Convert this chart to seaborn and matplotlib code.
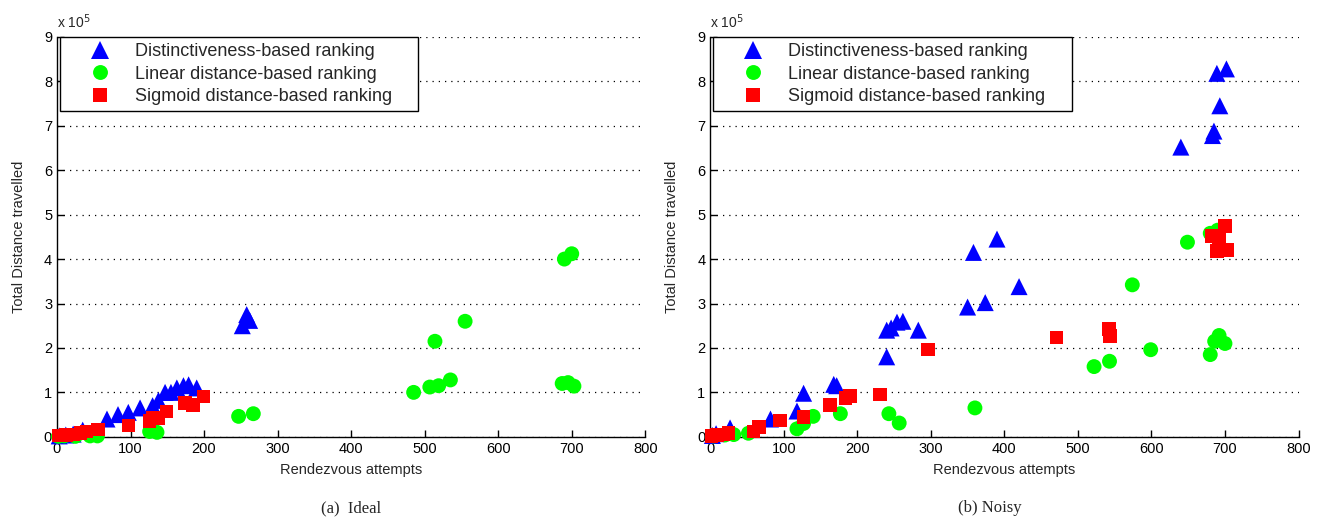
import pandas as pd
import seaborn as sns
import matplotlib.pyplot as plt

# Series names (legend text)
series_names = ['Distinctiveness-based ranking',
                'Linear distance-based ranking',
                'Sigmoid distance-based ranking']

# (a) Ideal -- values in units of 1e5
ideal_dist_x = [3, 12, 22, 35, 68, 83, 97, 113, 130, 138, 147, 155, 163, 172, 179, 190, 252, 258, 262]
ideal_dist_y = [0.02, 0.04, 0.06, 0.15, 0.4, 0.5, 0.55, 0.65, 0.7, 0.82, 1.0, 1.0, 1.1, 1.15, 1.17, 1.1, 2.5, 2.75, 2.62]
ideal_lin_x = [2, 10, 25, 45, 55, 126, 136, 247, 267, 485, 507, 519, 535, 514, 555, 687, 695, 703, 690, 700]
ideal_lin_y = [0.01, 0.02, 0.01, 0.02, 0.02, 0.12, 0.1, 0.46, 0.52, 1.0, 1.12, 1.15, 1.28, 2.15, 2.6, 1.2, 1.22, 1.14, 4.0, 4.12]
ideal_sig_x = [3, 12, 22, 32, 40, 56, 97, 126, 130, 138, 149, 174, 185, 199]
ideal_sig_y = [0.03, 0.04, 0.05, 0.08, 0.12, 0.16, 0.25, 0.35, 0.42, 0.42, 0.57, 0.76, 0.72, 0.91]

# (b) Noisy
noisy_dist_x = [3, 8, 27, 82, 118, 127, 168, 172, 240, 240, 246, 254, 262, 283, 350, 358, 374, 390, 420, 640, 683, 685, 689, 693, 702]
noisy_dist_y = [0.03, 0.07, 0.2, 0.4, 0.58, 0.98, 1.18, 1.15, 1.8, 2.4, 2.45, 2.58, 2.6, 2.4, 2.92, 4.15, 3.02, 4.45, 3.38, 6.52, 6.78, 6.88, 8.18, 7.45, 8.28]
noisy_lin_x = [5, 20, 32, 52, 118, 127, 140, 177, 243, 257, 360, 522, 543, 574, 599, 649, 680, 690, 680, 686, 692, 700]
noisy_lin_y = [0.02, 0.04, 0.05, 0.08, 0.18, 0.3, 0.46, 0.52, 0.52, 0.31, 0.65, 1.58, 1.7, 3.42, 1.96, 4.38, 4.58, 4.65, 1.85, 2.15, 2.28, 2.1]
noisy_sig_x = [2, 9, 18, 25, 59, 66, 95, 127, 163, 184, 190, 231, 296, 471, 542, 544, 682, 692, 700, 689, 703]
noisy_sig_y = [0.02, 0.04, 0.05, 0.08, 0.12, 0.22, 0.37, 0.45, 0.72, 0.87, 0.92, 0.95, 1.96, 2.24, 2.43, 2.27, 4.52, 4.45, 4.75, 4.18, 4.2]

x_ticks = list(range(0, 801, 100))
y_ticks = list(range(0, 10))
captions = ['(a)  Ideal', '(b) Noisy']


def make_frame(dx, dy, lx, ly, sx, sy):
    parts = []
    for name, xs, ys in zip(series_names, [dx, lx, sx], [dy, ly, sy]):
        parts.append(pd.DataFrame({'attempts': xs, 'distance': ys, 'series': name}))
    return pd.concat(parts, ignore_index=True)


frames = [make_frame(ideal_dist_x, ideal_dist_y, ideal_lin_x, ideal_lin_y, ideal_sig_x, ideal_sig_y),
          make_frame(noisy_dist_x, noisy_dist_y, noisy_lin_x, noisy_lin_y, noisy_sig_x, noisy_sig_y)]

sns.set_style('white')
plt.rcParams['font.family'] = ['Liberation Sans', 'DejaVu Sans']

palette = dict(zip(series_names, ['#0000ff', '#00ff00', '#ff0000']))
markers = dict(zip(series_names, ['^', 'o', 's']))
sizes = dict(zip(series_names, [150, 115, 95]))

fig = plt.figure(figsize=(13.25, 5.2), dpi=100)
ax_pos = [[0.043, 0.160, 0.444, 0.769], [0.536, 0.160, 0.444, 0.769]]
caption_x = [0.50, 0.475]

for pos, df, cap, cx in zip(ax_pos, frames, captions, caption_x):
    ax = fig.add_axes(pos)
    sns.scatterplot(data=df, x='attempts', y='distance', hue='series', style='series',
                    size='series', palette=palette, markers=markers, sizes=sizes,
                    linewidth=0, alpha=1, ax=ax, zorder=3, clip_on=False)
    ax.set_xlim(0, 800)
    ax.set_ylim(0, 9)
    ax.set_xticks(x_ticks)
    ax.set_yticks(y_ticks)
    ax.tick_params(direction='in', length=5, width=1, labelsize=10.5, colors='black',
                   left=True, bottom=True)
    ax.yaxis.grid(True, linestyle=(0, (1, 4)), color='black', linewidth=0.9)
    ax.xaxis.grid(False)
    for side in ['top', 'right']:
        ax.spines[side].set_visible(False)
    for side in ['left', 'bottom']:
        ax.spines[side].set_color('black')
        ax.spines[side].set_linewidth(1)
    ax.set_xlabel('Rendezvous attempts', fontsize=10.5, labelpad=5)
    ax.set_ylabel('Total Distance travelled', fontsize=10.5, labelpad=13)
    ax.text(0.0, 1.015, r'x 10$^5$', transform=ax.transAxes, fontsize=10, va='bottom')
    ax.text(cx, -0.158, cap, transform=ax.transAxes, ha='center', va='top',
            fontsize=12, family='Liberation Serif')

    # rebuild the seaborn legend in the boxed MATLAB style
    old = ax.get_legend()
    handles = list(old.legend_handles)
    labels = [t.get_text() + '    ' for t in old.get_texts()]
    old.remove()
    leg = ax.legend(handles, labels, loc='upper left', bbox_to_anchor=(0.005, 1.0),
                    frameon=True, fancybox=False, edgecolor='black', framealpha=1,
                    fontsize=13, borderpad=0.35, labelspacing=0.3, handletextpad=0.1,
                    borderaxespad=0, handlelength=3.7)
    leg.get_frame().set_linewidth(1)

fig.savefig('out.png', dpi=100)
